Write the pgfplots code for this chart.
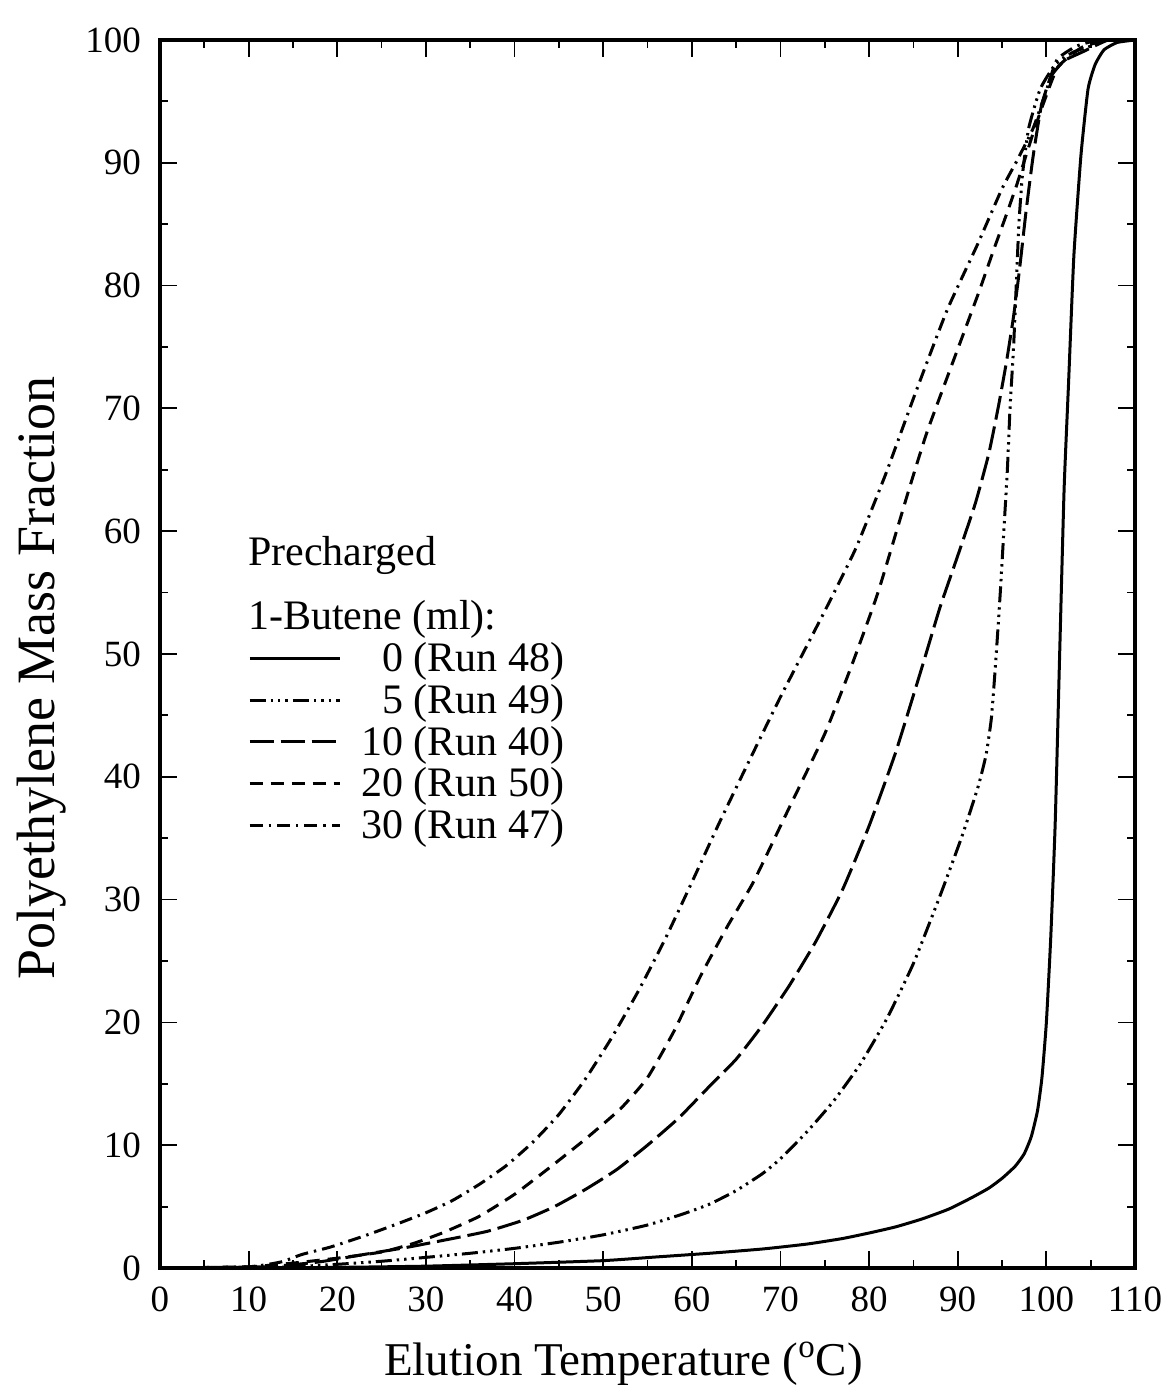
\documentclass[border=0pt]{standalone}
\usepackage{fontspec}
\setmainfont{Liberation Serif}
\usepackage{pgfplots}
\pgfplotsset{compat=1.18}

\begin{document}
\begin{tikzpicture}
\begin{axis}[
  scale only axis,
  width=487.5pt, height=614pt,
  xmin=0, xmax=110, ymin=0, ymax=100,
  xtick={0,10,...,110}, ytick={0,10,...,100},
  minor x tick num=1, minor y tick num=1,
  tick align=inside,
  major tick length=8.5pt, minor tick length=4pt,
  every tick/.style={black, line width=0.9pt},
  axis line style={line width=2pt},
  /pgf/number format/assume math mode=true,
  tick label style={font=\fontsize{18.5}{22}\selectfont},
  xticklabel style={yshift=-6pt},
  yticklabel style={xshift=-6pt},
  xlabel={Elution Temperature (\textsuperscript{o}C)},
  ylabel={Polyethylene Mass Fraction},
  xlabel style={font=\fontsize{23.5}{28}\selectfont, yshift=-8pt, xshift=-12pt},
  ylabel style={font=\fontsize{27}{32}\selectfont, yshift=3pt, xshift=-12pt},
  legend image code/.code={\draw[#1] (0pt,0pt) -- (45pt,0pt);},
  legend cell align=left,
  legend style={draw=none, fill=none, at={(rel axis cs:0.09,0.513)}, anchor=north west,
    font=\fontsize{21}{21}\selectfont, row sep=0.8pt, column sep=8pt, inner sep=0pt},
]

% 0 ml 1-butene (Run 48)
\addplot[black, line width=1.5pt, smooth, tension=0.3] coordinates {
 (0,0) (10,0) (20,0.05) (30,0.15) (40,0.35) (50,0.6) (56,0.9) (62,1.2) (68,1.55)
 (73,1.95) (77,2.4) (80,2.85) (83,3.35) (86,4.0) (89,4.8) (91.5,5.7) (93.5,6.5)
 (95,7.3) (96.5,8.3) (97.5,9.3) (98.3,10.7) (99,12.8) (99.5,15.5) (100,20)
 (100.5,27) (101,36.3) (101.5,50) (102,63.4) (102.5,72) (103.1,82.4) (103.9,90.6)
 (104.7,96) (105.5,98) (106.5,99.2) (108,99.8) (110,100)};
\addlegendentry{\phantom{1}0 (Run 48)}

% 5 ml (Run 49)
\addplot[black, line width=1.5pt, smooth, tension=0.3,
  dash pattern=on 8pt off 2.5pt on 1.2pt off 2.5pt on 1.2pt off 2.5pt on 1.2pt off 2.5pt] coordinates {
 (0,0) (10,0) (15,0.1) (20,0.3) (25,0.55) (29,0.8) (35,1.2) (40,1.6) (45,2.1) (50,2.7)
 (55,3.5) (59,4.4) (62,5.2) (65,6.3) (68,7.7) (70,8.9) (73,11.1) (76,13.6) (79,16.6)
 (82,20.3) (85,24.8) (88,30.3) (90.5,35.2) (92.3,39.2) (93.2,41.8) (93.8,44.8)
 (94.3,49.5) (94.8,55) (95.2,60) (95.6,65) (95.9,70) (96.3,75) (96.6,80) (96.9,85)
 (97.3,89) (98,92.8) (99.3,96) (101,98) (103,99) (105,99.5) (107,100) (110,100)};
\addlegendentry{\phantom{1}5 (Run 49)}

% 10 ml (Run 40)
\addplot[black, line width=1.5pt, smooth, tension=0.3,
  dash pattern=on 12pt off 3.5pt] coordinates {
 (0,0) (12,0.1) (18,0.5) (23,1.1) (28,1.7) (33,2.4) (37,3.0) (41,3.9) (44.5,5.0)
 (48,6.4) (51.5,8.0) (55,10.0) (58.5,12.2) (62,14.8) (65,17.0) (68,19.8) (71,23.0)
 (74,26.6) (77,30.8) (80,36.0) (83,42.0) (86,49.0) (88,53.8) (90,58.0) (92,62.3)
 (93.5,66.3) (94.6,70.2) (95.5,73.8) (96.3,77.5) (97,81.5) (97.7,86) (98.5,90.5)
 (99.4,94.5) (100.5,97) (102,98.3) (104,99) (107,100) (110,100)};
\addlegendentry{10 (Run 40)}

% 20 ml (Run 50)
\addplot[black, line width=1.5pt, smooth, tension=0.3,
  dash pattern=on 6.5pt off 4pt] coordinates {
 (0,0) (10,0.1) (15,0.4) (20,0.8) (25,1.3) (28.6,2.0) (32,2.9) (36,4.2) (40,6.0)
 (44,8.2) (48,10.5) (52,13.0) (55,15.5) (58,19.3) (61,23.8) (64,27.8) (67,31.5)
 (71,37.5) (75,43.5) (78,49) (81,55) (84.5,63.4) (86.5,68) (88.9,72.7) (90.5,75.8)
 (92.4,79.5) (94,82.8) (95.5,85.8) (96.7,88.3) (98.5,92.4) (99.8,95.1) (101.3,97.8)
 (104,99.4) (107,100) (110,100)};
\addlegendentry{20 (Run 50)}

% 30 ml (Run 47)
\addplot[black, line width=1.5pt, smooth, tension=0.3,
  dash pattern=on 6.5pt off 3pt on 1.2pt off 3pt] coordinates {
 (0,0) (10,0.1) (13.7,0.5) (16,1.1) (19.2,1.7) (23,2.6) (26.8,3.6) (30,4.5) (33,5.5)
 (36,6.8) (39,8.3) (42,10.2) (45,12.5) (48,15.4) (51,18.8) (54,22.6) (57,26.8)
 (60,31.4) (63,36.1) (66,40.6) (70,46.5) (75,53.5) (78.5,58.6) (81.9,64.7)
 (85.2,71.2) (88.8,78) (92.2,83.3) (95,87.9) (96.7,90.2) (98.5,92.8) (100,95.9)
 (101.2,98.4) (103.4,99.5) (106,100) (110,100)};
\addlegendentry{30 (Run 47)}

\node[anchor=west, font=\fontsize{21}{21}\selectfont, inner sep=0pt]
  at (rel axis cs:0.09,0.580) {Precharged};
\node[anchor=west, font=\fontsize{21}{21}\selectfont, inner sep=0pt]
  at (rel axis cs:0.09,0.528) {1-Butene (ml):};

\coordinate (bl) at (rel axis cs:0,0);
\coordinate (tr) at (rel axis cs:1,1);
\end{axis}
\pgfresetboundingbox
\path[use as bounding box] ([shift={(-80pt,-65pt)}]bl) rectangle ([shift={(16pt,20pt)}]tr);
\end{tikzpicture}
\end{document}
